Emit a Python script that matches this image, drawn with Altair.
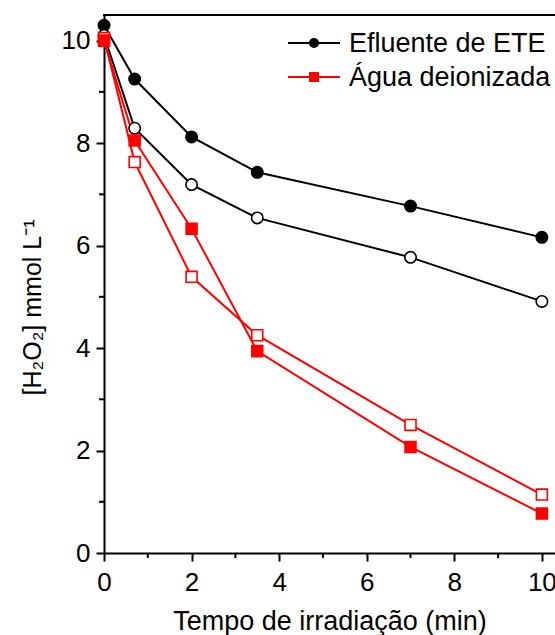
import altair as alt
import pandas as pd

# ---- data ----
time_min = [0, 0.7, 2, 3.5, 7, 10]
efluente_filled = [10.30, 9.25, 8.12, 7.43, 6.77, 6.16]
efluente_open = [10.10, 8.29, 7.19, 6.54, 5.77, 4.91]
agua_filled = [10.00, 8.05, 6.33, 3.94, 2.07, 0.77]
agua_open = [10.05, 7.63, 5.39, 4.25, 2.50, 1.14]

x_major = [0, 2, 4, 6, 8, 10]
x_minor = [1, 3, 5, 7, 9]
y_major = [0, 2, 4, 6, 8, 10]
y_minor = [1, 3, 5, 7, 9]

legend_labels = ["Efluente de ETE", "Água deionizada"]

RED = "#ff0000"
BLACK = "#000000"
W, H = 451, 538
FONT = "Liberation Sans"

rows = []
for name, vals, color, fill, shape in [
    ("ef_f", efluente_filled, BLACK, BLACK, "circle"),
    ("ef_o", efluente_open, BLACK, "#ffffff", "circle"),
    ("ag_o", agua_open, RED, "#ffffff", "square"),
    ("ag_f", agua_filled, RED, RED, "square"),
]:
    for t, v in zip(time_min, vals):
        rows.append({"t": t, "h": v, "series": name, "col": color, "fillc": fill, "shape": shape})
df = pd.DataFrame(rows)

xscale = alt.Scale(domain=[0, 10.3], nice=False, zero=False)
yscale = alt.Scale(domain=[0, 10.5], nice=False, zero=False)

xenc = alt.X("t:Q", scale=xscale, axis=alt.Axis(
    values=x_major, title="Tempo de irradiação (min)", grid=False,
    tickSize=8, tickWidth=2, domainWidth=2, domainColor=BLACK, tickColor=BLACK,
    labelFontSize=26, labelFont=FONT, labelColor=BLACK, labelPadding=8,
    titleFontSize=27, titleFont=FONT, titleFontWeight="normal", titleColor=BLACK,
    titlePadding=13, labelFlush=False))
yenc = alt.Y("h:Q", scale=yscale, axis=alt.Axis(
    values=y_major, title="[H₂O₂] mmol L⁻¹", grid=False,
    tickSize=8, tickWidth=2, domainWidth=2, domainColor=BLACK, tickColor=BLACK,
    labelFontSize=26, labelFont=FONT, labelColor=BLACK, labelPadding=6,
    titleFontSize=25, titleFont=FONT, titleFontWeight="normal", titleColor=BLACK,
    titleX=-72, titleY=292, titleAngle=-90, titleBaseline="middle", titleAlign="center",
    labelFlush=False))

base = alt.Chart(df)

lines = base.mark_line(strokeWidth=2, clip=False).encode(
    x=xenc, y=yenc, detail="series:N",
    color=alt.Color("col:N", scale=None))

circles = base.transform_filter(alt.datum.shape == "circle").mark_point(
    shape="circle", size=130, strokeWidth=1.6, opacity=1).encode(
    x="t:Q", y="h:Q",
    stroke=alt.Stroke("col:N", scale=None),
    fill=alt.Fill("fillc:N", scale=None))

squares = base.transform_filter(alt.datum.shape == "square").mark_point(
    shape="square", size=120, strokeWidth=1.6, opacity=1).encode(
    x="t:Q", y="h:Q",
    stroke=alt.Stroke("col:N", scale=None),
    fill=alt.Fill("fillc:N", scale=None))

xminor = alt.Chart(pd.DataFrame({"m": x_minor})).mark_rule(strokeWidth=2, color=BLACK).encode(
    x=alt.X("m:Q", scale=xscale), y=alt.value(H), y2=alt.value(H + 5))
yminor = alt.Chart(pd.DataFrame({"m": y_minor})).mark_rule(strokeWidth=2, color=BLACK).encode(
    y=alt.Y("m:Q", scale=yscale), x=alt.value(0), x2=alt.value(-5))

top = alt.Chart(pd.DataFrame({"a": [0]})).mark_rule(strokeWidth=2, color=BLACK).encode(
    x=alt.value(-1), x2=alt.value(W), y=alt.value(0))

one = pd.DataFrame({"a": [0]})
leg = []
for label, color, shape, ly in [(legend_labels[0], BLACK, "circle", 28),
                                (legend_labels[1], RED, "square", 62)]:
    leg.append(alt.Chart(one).mark_rule(strokeWidth=2, color=color).encode(
        x=alt.value(184), x2=alt.value(236), y=alt.value(ly)))
    leg.append(alt.Chart(one).mark_point(shape=shape, size=100 if shape == "circle" else 100,
                                         filled=True, color=color, opacity=1).encode(
        x=alt.value(210), y=alt.value(ly)))
    leg.append(alt.Chart(one).mark_text(text=label, align="left", baseline="middle",
                                        fontSize=27, font=FONT, color=BLACK).encode(
        x=alt.value(245), y=alt.value(ly + 1)))

chart = alt.layer(lines, circles, squares, xminor, yminor, top, *leg).properties(
    width=W, height=H,
    autosize=alt.AutoSizeParams(type="none"),
    padding={"left": 104, "top": 15, "right": 0, "bottom": 82},
).configure_view(stroke=None).configure(background="white")

chart.save("out.html", embed_options={"renderer": "svg", "actions": False})
